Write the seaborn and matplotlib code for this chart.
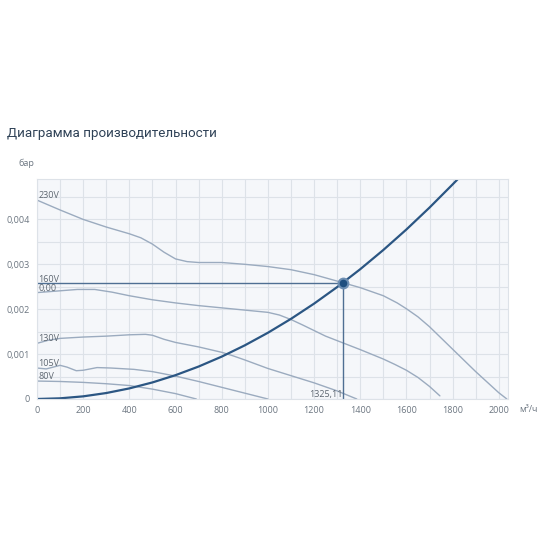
import numpy as np
import pandas as pd
import matplotlib
matplotlib.use("Agg")
import matplotlib.pyplot as plt
import matplotlib.ticker as ticker
import seaborn as sns

# fan curves (flow m3/h, pressure bar)
v230_x = [0, 100, 200, 300, 400, 450, 500, 550, 600, 650, 700, 800, 900, 1000, 1100, 1200, 1325,
          1400, 1500, 1560, 1600, 1650, 1700, 1800, 1900, 2000, 2035]
v230_y = [0.00443, 0.00421, 0.00400, 0.00383, 0.00368, 0.00359, 0.00345, 0.00327, 0.00312, 0.00306,
          0.00304, 0.00304, 0.00300, 0.00295, 0.00288, 0.00277, 0.00259,
          0.00248, 0.00230, 0.00214, 0.00201, 0.00183, 0.00161, 0.00111, 0.00061, 0.00014, 0.0]

v000_x = [0, 50, 100, 175, 250, 325, 400, 500, 600, 700, 800, 900, 1000, 1050, 1100, 1150, 1250,
          1400, 1500, 1550, 1600, 1650, 1700, 1745]
v000_y = [0.00237, 0.00239, 0.00241, 0.00244, 0.00244, 0.00238, 0.00230, 0.00221, 0.00214, 0.00208,
          0.00203, 0.00198, 0.00193, 0.00187, 0.00177, 0.00165, 0.00140,
          0.00110, 0.00089, 0.00077, 0.00064, 0.00048, 0.00028, 0.00007]

v130_x = [0, 50, 100, 200, 300, 400, 470, 500, 550, 600, 700, 800, 850, 900, 1000, 1100, 1200, 1300, 1385]
v130_y = [0.00124, 0.00131, 0.00135, 0.00138, 0.00140, 0.00143, 0.00144, 0.00142, 0.00133, 0.00126,
          0.00116, 0.00104, 0.00096, 0.00087, 0.00068, 0.00052, 0.00036, 0.00018, 0.0]

v105_x = [0, 40, 100, 130, 170, 200, 260, 320, 420, 500, 600, 700, 800, 900, 1000]
v105_y = [0.00069, 0.00067, 0.00075, 0.00071, 0.00063, 0.00064, 0.00070, 0.00069, 0.00066, 0.00061,
          0.00051, 0.00039, 0.00026, 0.00013, 0.0]

v80_x = [0, 100, 200, 300, 400, 500, 600, 690]
v80_y = [0.00040, 0.00039, 0.00037, 0.00034, 0.00030, 0.00022, 0.00012, 0.0]

# system (network) curve
sys_x = [0, 100, 200, 300, 400, 500, 600, 700, 800, 900, 1000, 1100, 1200, 1300, 1400, 1500, 1600, 1700, 1800, 1825]
sys_y = [0.0, 0.000015, 0.000059, 0.000133, 0.000236, 0.000369, 0.000531, 0.000723, 0.000944, 0.001195,
         0.001475, 0.001785, 0.002124, 0.002493, 0.002891, 0.003319, 0.003776, 0.004263, 0.004779, 0.00491]

work_q = 1325.11
work_p = 0.00259

curve_labels = ["230V", "0,00", "130V", "105V", "80V"]
curve_x = [v230_x, v000_x, v130_x, v105_x, v80_x]
curve_y = [v230_y, v000_y, v130_y, v105_y, v80_y]

sns.set_theme(style="white")
plt.rcParams['font.family'] = ['Open Sans', 'DejaVu Sans']
plt.rcParams['lines.solid_joinstyle'] = 'round'

fig = plt.figure(figsize=(5.5, 5.5), dpi=100, facecolor="white")
ax = fig.add_axes([37/550, 151/550, 471/550, 220/550], facecolor="#f5f7fa")

line_col = "#9babbf"
for lbl, xs, ys in zip(curve_labels, curve_x, curve_y):
    df = pd.DataFrame({"q": xs, "p": ys})
    sns.lineplot(data=df, x="q", y="p", ax=ax, color=line_col, lw=1.0, sort=False, estimator=None)
    ax.annotate(lbl, (0, ys[0]), xytext=(1, 0), textcoords="offset points",
                fontsize=6.5, color="#5d6670", va="bottom", ha="left")

# working point lines
ax.plot([0, work_q], [work_p, work_p], color="#4f6f93", lw=1.0)
ax.plot([work_q, work_q], [0, work_p], color="#4f6f93", lw=1.0)
ax.annotate("160V", (0, work_p), xytext=(1, -1), textcoords="offset points",
            fontsize=6.5, color="#5d6670", va="bottom", ha="left")

sys_df = pd.DataFrame({"q": sys_x, "p": sys_y})
sns.lineplot(data=sys_df, x="q", y="p", ax=ax, color="#2b5683", lw=1.6, sort=False, estimator=None)

ax.plot([work_q], [work_p], marker="o", ms=7, mfc="#1f4f7f", mec="#6e8fb3", mew=1.5, zorder=5)
ax.annotate("1325,11", (work_q, 0), xytext=(0, 0), textcoords="offset points",
            fontsize=6.5, color="#5d6670", va="bottom", ha="right")

ax.set_xlim(0, 2040)
ax.set_ylim(0, 0.0049)
ax.xaxis.set_major_locator(ticker.MultipleLocator(200))
ax.xaxis.set_minor_locator(ticker.MultipleLocator(100))
ax.yaxis.set_major_locator(ticker.MultipleLocator(0.001))
ax.yaxis.set_minor_locator(ticker.MultipleLocator(0.0005))
ax.yaxis.set_major_formatter(ticker.FuncFormatter(lambda v, p: "0" if v == 0 else f"{v:.3f}".replace(".", ",")))
ax.grid(which="both", color="#dde2e8", lw=0.8)
ax.set_axisbelow(True)
ax.tick_params(which="both", length=0, labelsize=6.5, labelcolor="#6b7580", pad=5)
for s in ax.spines.values():
    s.set_color("#dde2e8")
    s.set_linewidth(0.8)
ax.set_xlabel("")
ax.set_ylabel("")

fig.text(7/550, 1 - 133/550, "Диаграмма производительности", fontsize=9.6,
         family=["Roboto", "DejaVu Sans"], color="#2e4156", va="center", ha="left")
fig.text(18/550, 1 - 163/550, "бар", fontsize=6.5, color="#6b7580", va="center", ha="left")
fig.text(519/550, 1 - 410/550, "м³/ч", fontsize=6.5, color="#6b7580", va="center", ha="left")

fig.savefig("out.png", dpi=100, facecolor="white")
